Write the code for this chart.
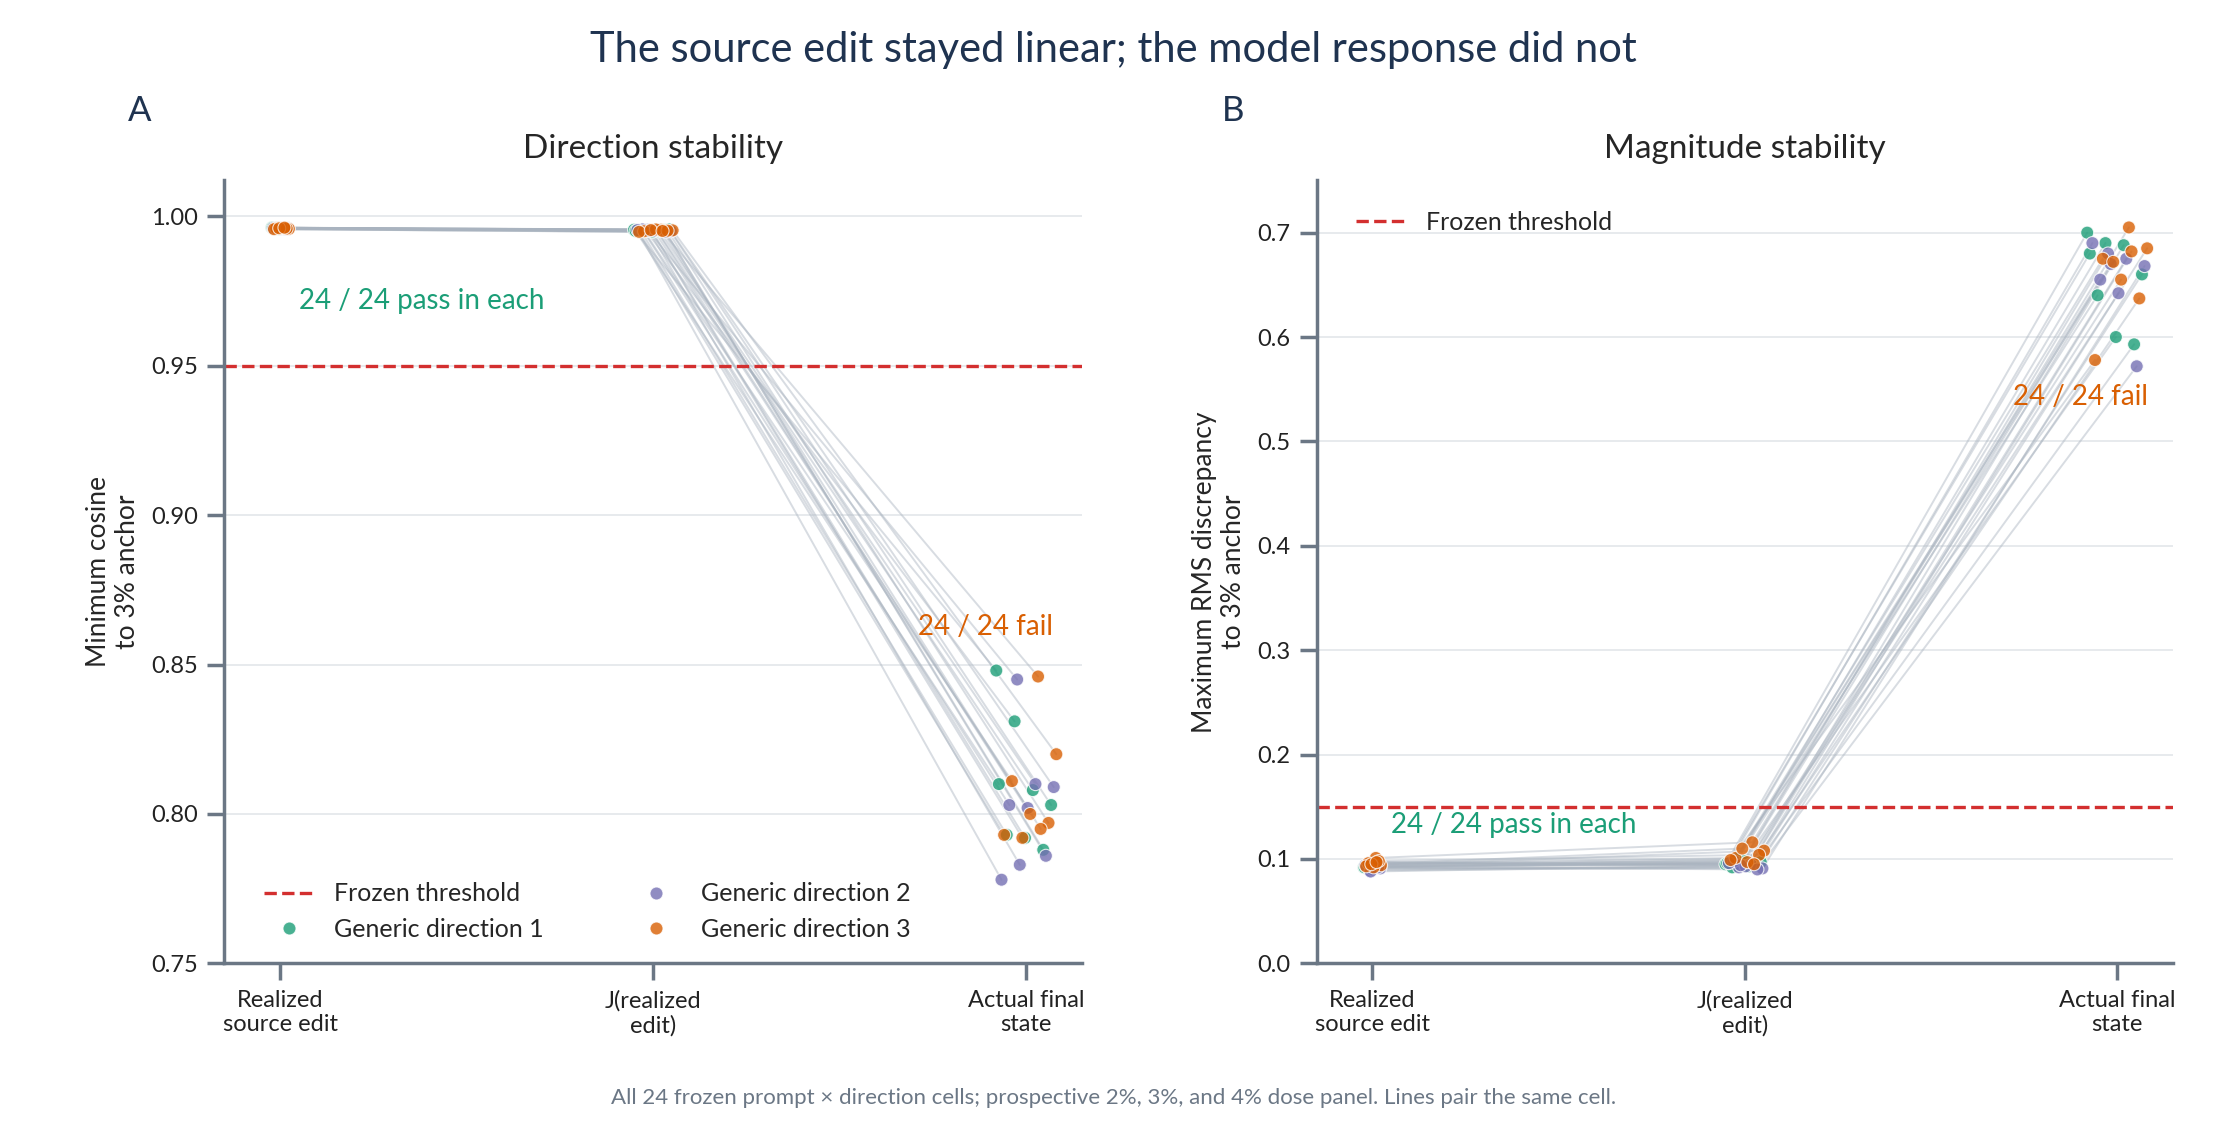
import numpy as np, pandas as pd, matplotlib
matplotlib.use("Agg")
import matplotlib.pyplot as plt, seaborn as sns

stages = ["Realized\nsource edit", "J(realized\nedit)", "Actual final\nstate"]
directions = ["Generic direction 1", "Generic direction 2", "Generic direction 3"]
colors = ["#1b9e77", "#7570b3", "#d95f02"]

cos_src = [0.9962,0.9958,0.9960,0.9961,0.9959,0.9957,0.9960,0.9962]*3
cos_j   = [0.9955,0.9953,0.9950,0.9956,0.9952,0.9948,0.9954,0.9951]*3
cos_fin_d1 = [0.848,0.831,0.808,0.803,0.793,0.792,0.788,0.810]
cos_fin_d2 = [0.845,0.810,0.809,0.803,0.802,0.786,0.778,0.783]
cos_fin_d3 = [0.846,0.820,0.811,0.800,0.797,0.793,0.792,0.795]

rms_src_d1 = [0.092,0.095,0.097,0.093,0.091,0.094,0.096,0.092]
rms_src_d2 = [0.089,0.093,0.091,0.095,0.090,0.092,0.094,0.088]
rms_src_d3 = [0.101,0.094,0.096,0.092,0.098,0.093,0.095,0.097]
rms_j_d1 = [0.095,0.100,0.093,0.097,0.092,0.098,0.094,0.096]
rms_j_d2 = [0.092,0.095,0.091,0.098,0.093,0.090,0.096,0.094]
rms_j_d3 = [0.116,0.108,0.101,0.097,0.104,0.099,0.110,0.095]
rms_fin_d1 = [0.700,0.690,0.688,0.660,0.640,0.600,0.593,0.680]
rms_fin_d2 = [0.680,0.675,0.668,0.655,0.642,0.572,0.690,0.670]
rms_fin_d3 = [0.705,0.685,0.675,0.655,0.637,0.578,0.672,0.682]

threshold_cos, threshold_rms = 0.95, 0.15

def build(src, j, fin):
    rows = []
    for c in range(24):
        d = c // 8
        for s, v in enumerate([src[c], j[c], fin[c]]):
            rows.append(dict(cell=c, dir=directions[d], stage=s, value=v))
    df = pd.DataFrame(rows)
    k = (df["cell"] * 7) % 24 - 11.5
    df["x"] = df["stage"] + k * (0.002 + 0.0025 * df["stage"])
    return df

dfA = build(cos_src, cos_j, cos_fin_d1 + cos_fin_d2 + cos_fin_d3)
dfB = build(rms_src_d1 + rms_src_d2 + rms_src_d3, rms_j_d1 + rms_j_d2 + rms_j_d3,
            rms_fin_d1 + rms_fin_d2 + rms_fin_d3)

sns.set_theme(style="ticks")
plt.rcParams['font.family'] = ['Lato', 'DejaVu Sans']
W, H = 1568, 803
fig = plt.figure(figsize=(11.135, 5.705), dpi=200)
axA = fig.add_axes([158/W, 1-678/H, (762-158)/W, (678-127)/H])
axB = fig.add_axes([927/W, 1-678/H, (1530-927)/W, (678-127)/H])
spine = "#6b7785"
for ax, df, thr in [(axA, dfA, threshold_cos), (axB, dfB, threshold_rms)]:
    for c, g in df.groupby("cell"):
        ax.plot(g["x"], g["value"], color="#a9b3bf", lw=0.7, alpha=0.45, zorder=1)
    ax.axhline(thr, color="#d32f2f", ls="--", lw=1.2, label="Frozen threshold", zorder=2)
    sns.scatterplot(data=df, x="x", y="value", hue="dir", palette=colors, hue_order=directions,
                    s=22, edgecolor="white", linewidth=0.4, alpha=0.8, ax=ax, zorder=3)
    ax.set_xticks([0, 1, 2]); ax.set_xticklabels(stages, fontsize=8.5)
    ax.set_xlim(-0.15, 2.15); ax.set_xlabel("")
    ax.grid(axis="y", color="#e3e6ea", lw=0.6); ax.set_axisbelow(True)
    sns.despine(ax=ax)
    for sp in ["left", "bottom"]:
        ax.spines[sp].set_color(spine)
    ax.tick_params(colors="#222", labelsize=8.5, color=spine)

axA.set_ylim(0.75, 1.012)
axA.set_yticks([0.75,0.80,0.85,0.90,0.95,1.00])
axA.set_yticklabels([f"{v:.2f}" for v in [0.75,0.80,0.85,0.90,0.95,1.00]])
axA.set_ylabel("Minimum cosine\nto 3% anchor", fontsize=9.5)
axA.set_title("Direction stability", fontsize=12, pad=8)
axA.text(0.05, 0.969, "24 / 24 pass in each", color="#1b9e77", fontsize=10)
axA.text(1.71, 0.860, "24 / 24 fail", color="#d95f02", fontsize=10)
h, l = axA.get_legend_handles_labels()
axA.legend(h, l, loc="lower left", ncol=2, frameon=False, fontsize=9, columnspacing=3.5,
           bbox_to_anchor=(0.02, 0.0))

axB.set_ylim(0, 0.75)
axB.set_yticks(np.arange(0, 0.71, 0.1))
axB.set_yticklabels([f"{v:.1f}" for v in np.arange(0, 0.71, 0.1)])
axB.set_ylabel("Maximum RMS discrepancy\nto 3% anchor", fontsize=9.5)
axB.set_title("Magnitude stability", fontsize=12, pad=8)
axB.text(0.05, 0.125, "24 / 24 pass in each", color="#1b9e77", fontsize=10)
axB.text(1.72, 0.535, "24 / 24 fail", color="#d95f02", fontsize=10)
h, l = axB.get_legend_handles_labels()
axB.legend(h[:1], l[:1], loc="upper left", frameon=False, fontsize=9, bbox_to_anchor=(0.02, 0.99))

fig.text(0.5, 1-35/H, "The source edit stayed linear; the model response did not",
         ha="center", va="center", fontsize=15, color="#1f3350")
fig.text(90/W, 1-78/H, "A", fontsize=12.5, color="#1f3350", va="center")
fig.text(860/W, 1-78/H, "B", fontsize=12.5, color="#1f3350", va="center")
fig.text(0.5, 1-773/H, "All 24 frozen prompt × direction cells; prospective 2%, 3%, and 4% dose panel. Lines pair the same cell.",
         ha="center", va="center", fontsize=8, color="#6b7785")
fig.savefig("out.png", dpi=200)
